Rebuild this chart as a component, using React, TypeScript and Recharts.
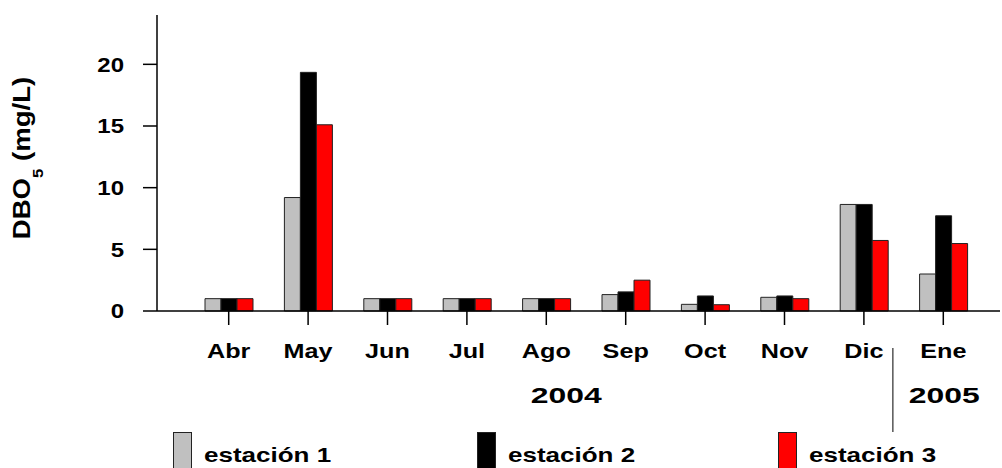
import { BarChart, Bar, XAxis, YAxis, Legend } from 'recharts';

const months = ['Abr', 'May', 'Jun', 'Jul', 'Ago', 'Sep', 'Oct', 'Nov', 'Dic', 'Ene'];
const estacion1 = [1, 9.2, 1, 1, 1, 1.33, 0.54, 1.11, 8.64, 3.0];
const estacion2 = [1, 19.35, 1, 1, 1, 1.55, 1.22, 1.22, 8.64, 7.72];
const estacion3 = [1, 15.1, 1, 1, 1, 2.5, 0.51, 1.0, 5.72, 5.47];
const yTicks = [0, 5, 10, 15, 20];
const seriesNames = ['estación 1', 'estación 2', 'estación 3'];
const seriesColors = ['#c0c0c0', '#000000', '#ff0000'];

const data = months.map((m, i) => ({
  month: m,
  e1: estacion1[i],
  e2: estacion2[i],
  e3: estacion3[i],
}));

const FONT = '"Liberation Sans", Arial, sans-serif';

function MonthTick(props: any) {
  const { x, y, payload, index } = props;
  return (
    <g>
      <text
        transform={`translate(${x},${y + 32.5}) scale(1.2,1)`}
        textAnchor="middle"
        fontFamily={FONT}
        fontWeight="bold"
        fontSize={21}
        fill="#000"
      >
        {payload.value}
      </text>
      {index === 4 && (
        <text
          transform={`translate(${x + 20},${y + 77.7}) scale(1.45,1)`}
          textAnchor="middle"
          fontFamily={FONT}
          fontWeight="bold"
          fontSize={22}
          fill="#000"
        >
          2004
        </text>
      )}
      {index === 8 && (
        <line x1={x + 29} x2={x + 29} y1={y + 23} y2={y + 107} stroke="#000" strokeWidth={1} />
      )}
      {index === 9 && (
        <text
          transform={`translate(${x + 1},${y + 77.7}) scale(1.45,1)`}
          textAnchor="middle"
          fontFamily={FONT}
          fontWeight="bold"
          fontSize={22}
          fill="#000"
        >
          2005
        </text>
      )}
    </g>
  );
}

function ValueTick(props: any) {
  const { x, y, payload } = props;
  return (
    <text
      transform={`translate(${x},${y + 7.2}) scale(1.2,1)`}
      textAnchor="end"
      fontFamily={FONT}
      fontWeight="bold"
      fontSize={20}
      fill="#000"
    >
      {payload.value}
    </text>
  );
}

function YTitle() {
  return (
    <text
      transform="translate(30,158) rotate(-90) scale(1.2,1)"
      textAnchor="middle"
      fontFamily={FONT}
      fontWeight="bold"
      fontSize={23}
      fill="#000"
    >
      DBO
      <tspan fontSize={14} dy={13}>5</tspan>
      <tspan dy={-13}> (mg/L)</tspan>
    </text>
  );
}

const legendX = [173, 477, 778];

function LegendBoxes(props: any) {
  const payload = props.payload || [];
  return (
    <svg width={1002} height={468} style={{ position: 'absolute', left: 0, top: 0, pointerEvents: 'none' }}>
      {payload.map((p: any, i: number) => (
        <g key={i}>
          <rect x={legendX[i] + 0.5} y={432.5} width={18} height={40} fill={seriesColors[i]} stroke="#222" strokeWidth={1} />
          <text
            transform={`translate(${legendX[i] + 31},461.7) scale(1.3,1)`}
            fontFamily={FONT}
            fontWeight="bold"
            fontSize={20}
            fill="#000"
          >
            {p.value}
          </text>
        </g>
      ))}
    </svg>
  );
}

export default function App() {
  return (
    <div style={{ position: 'absolute', left: 0, top: 0, width: 1002, height: 468, overflow: 'hidden', background: '#fff' }}>
      <BarChart
        width={1002}
        height={468}
        data={data}
        barGap={0}
        margin={{ top: 15, right: 2, left: 0, bottom: 17 }}
      >
        <XAxis
          dataKey="month"
          height={140}
          padding={{ left: 32, right: 17 }}
          tickSize={14}
          tickMargin={0}
          axisLine={{ stroke: '#000', strokeWidth: 1.5 }}
          tickLine={{ stroke: '#000', strokeWidth: 1.5 }}
          tick={<MonthTick />}
          interval={0}
        />
        <YAxis
          width={157}
          domain={[0, 24]}
          ticks={yTicks}
          tickSize={14}
          tickMargin={19}
          axisLine={{ stroke: '#000', strokeWidth: 1.5 }}
          tickLine={{ stroke: '#000', strokeWidth: 1.5 }}
          tick={<ValueTick />}
          label={<YTitle />}
        />
        <Legend
          layout="horizontal"
          verticalAlign="middle"
          align="center"
          wrapperStyle={{ position: 'absolute', left: 0, top: 0, width: 1002, height: 468, pointerEvents: 'none' }}
          content={<LegendBoxes />}
        />
        {['e1', 'e2', 'e3'].map((k, i) => (
          <Bar
            key={k}
            dataKey={k}
            name={seriesNames[i]}
            fill={seriesColors[i]}
            stroke="#222"
            strokeWidth={1}
            barSize={16}
            isAnimationActive={false}
          />
        ))}
      </BarChart>
    </div>
  );
}
